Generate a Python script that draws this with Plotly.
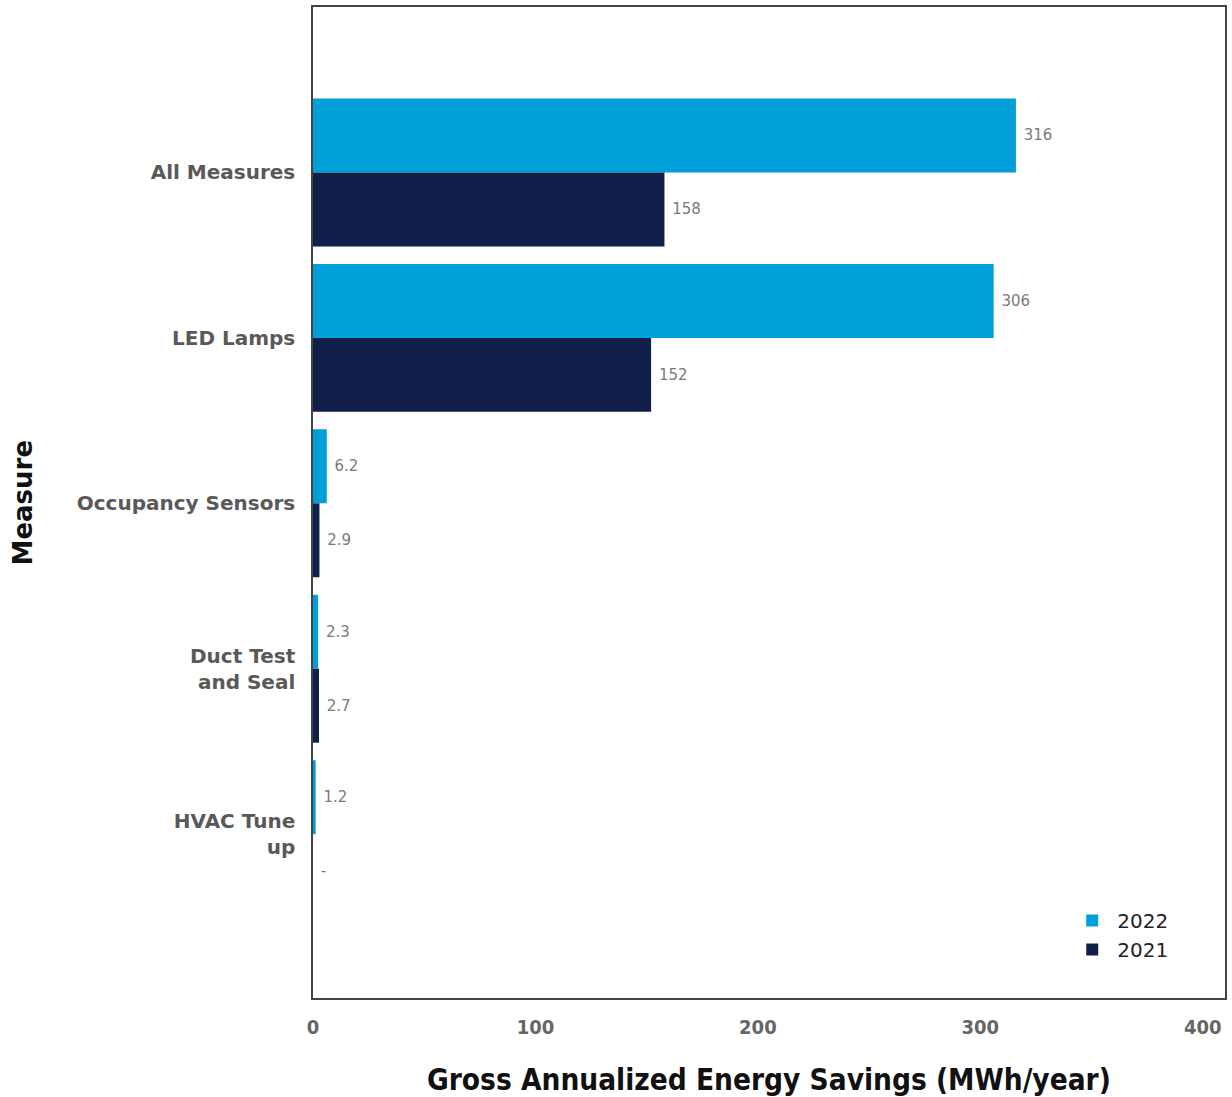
import plotly.graph_objects as go

measures = ["All Measures", "LED Lamps", "Occupancy Sensors", "Duct Test<br>and Seal", "HVAC Tune<br>up"]
savings_2022 = [316, 306, 6.2, 2.3, 1.2]
savings_2021 = [158, 152, 2.9, 2.7, 0]
labels_2022 = ["316", "306", "6.2", "2.3", "1.2"]
labels_2021 = ["158", "152", "2.9", "2.7", "-"]
x_ticks = [0, 100, 200, 300, 400]

c2022 = "#009FDA"
c2021 = "#111F4B"
label_font = dict(family="DejaVu Sans", size=15, color="#7a7a7a")
narrow = "DejaVu Sans Condensed, Roboto Condensed, Arial Narrow, sans-serif"

fig = go.Figure()
fig.add_trace(go.Bar(
    y=measures, x=savings_2022, orientation="h", name="2022",
    marker=dict(color=c2022, line=dict(width=0)),
    text=labels_2022, texttemplate="\u00a0%{text}",
    textposition="outside", textfont=label_font, cliponaxis=False,
))
fig.add_trace(go.Bar(
    y=measures, x=savings_2021, orientation="h", name="2021",
    marker=dict(color=c2021, line=dict(width=0)),
    text=labels_2021, texttemplate="\u00a0%{text}",
    textposition="outside", textfont=label_font, cliponaxis=False,
))

fig.update_layout(
    width=1232, height=1097,
    margin=dict(l=313, r=5, t=5, b=99),
    paper_bgcolor="white", plot_bgcolor="white",
    barmode="group", bargap=0.106, bargroupgap=0,
    showlegend=True,
    legend=dict(
        x=0.827, y=0.098, xanchor="left", yanchor="top",
        font=dict(family="DejaVu Sans", size=20, color="#222222"),
        bgcolor="rgba(0,0,0,0)", tracegroupgap=0, itemwidth=40,
    ),
    xaxis=dict(
        range=[0, 410], tickvals=x_ticks, ticktext=[str(v) for v in x_ticks],
        showgrid=False, zeroline=False,
        showline=True, linecolor="#444444", linewidth=1.5, mirror=True,
        ticks="", ticklabelstandoff=10,
        tickfont=dict(family=narrow, size=20, color="#666666", weight="bold"),
    ),
    yaxis=dict(
        type="category", categoryarray=measures, range=[4.99, -1.0],
        showgrid=False, zeroline=False,
        showline=True, linecolor="#444444", linewidth=1.5, mirror=True,
        ticks="", ticklabelstandoff=12,
        tickfont=dict(family="DejaVu Sans", size=20, color="#595959", weight="bold"),
    ),
    annotations=[
        dict(text="<b>Gross Annualized Energy Savings (MWh/year)</b>",
             xref="paper", yref="paper", x=0.5, y=-0.083, xanchor="center", yanchor="middle",
             showarrow=False, font=dict(family=narrow, size=29.5, color="#111111")),
        dict(text="<b>Measure</b>", textangle=-90,
             xref="paper", yref="paper", x=-0.318, y=0.5, xanchor="center", yanchor="middle",
             showarrow=False, font=dict(family="DejaVu Sans", size=26, color="#111111")),
    ],
)

fig.write_html("out.html")
